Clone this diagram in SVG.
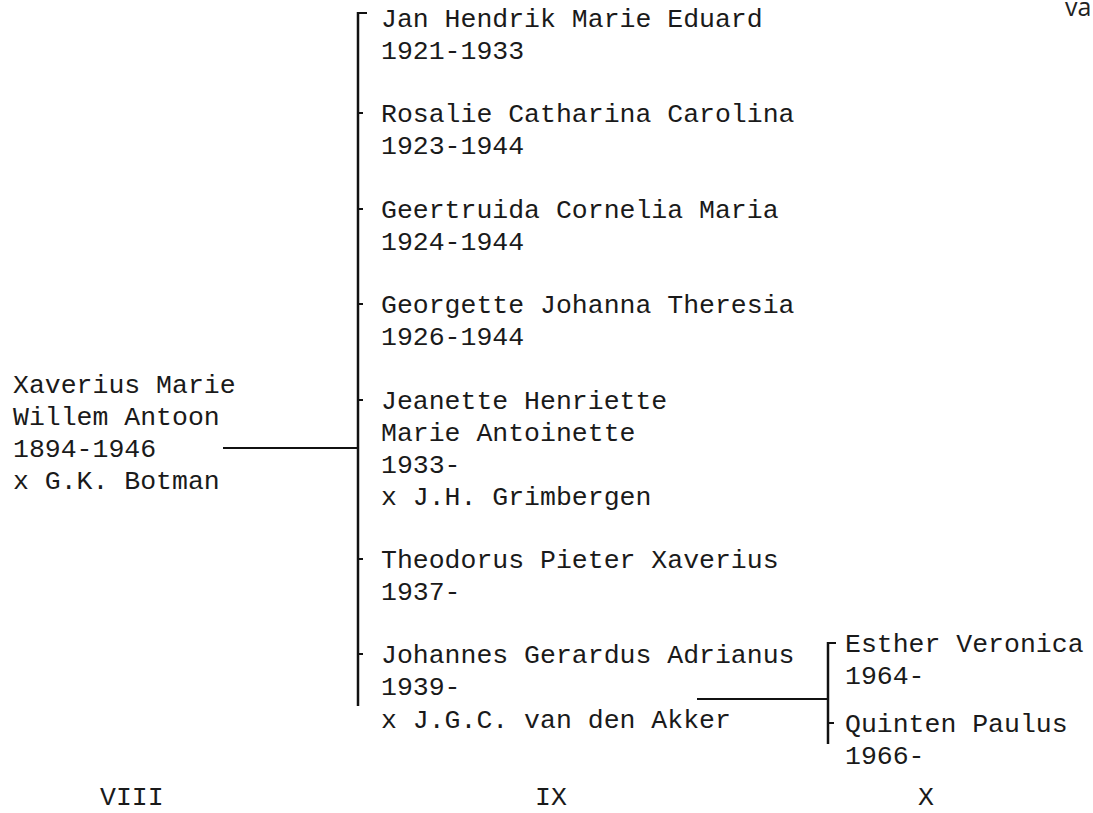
<svg xmlns="http://www.w3.org/2000/svg" width="1093" height="813" viewBox="0 0 1093 813">
<style>
text.t{font-family:"Liberation Mono","DejaVu Sans Mono",monospace;font-size:26.5px;fill:#1a1a1a}
.ln{stroke:#111;stroke-width:2.5;fill:none}
.tk{stroke:#111;stroke-width:2;fill:none}
</style>
<rect width="1093" height="813" fill="#fff"/>
<text x="1065" y="16" style="font-family:'Open Sans','DejaVu Sans',sans-serif;font-size:25px;fill:#222">va</text>
<g id="connectors">
<path class="ln" d="M358 12V706"/>
<path class="tk" d="M358 13H367"/>
<path class="tk" d="M358 113H363M358 209H363M358 304H363M358 400H363M358 559H363M358 654H363"/>
<path class="tk" d="M223 448H358"/>
<path class="tk" d="M697 699H828"/>
<path class="ln" d="M828 642V744"/>
<path class="tk" d="M828 643H836M828 723H834"/>
</g>
<g id="n_xaverius"><text class="t" x="13" y="393">Xaverius Marie</text><text class="t" x="13" y="425">Willem Antoon</text><text class="t" x="13" y="457">1894-1946</text><text class="t" x="13" y="489">x G.K. Botman</text></g>
<g id="n_jan"><text class="t" x="381" y="27">Jan Hendrik Marie Eduard</text><text class="t" x="381" y="59">1921-1933</text></g>
<g id="n_rosalie"><text class="t" x="381" y="122">Rosalie Catharina Carolina</text><text class="t" x="381" y="154">1923-1944</text></g>
<g id="n_geertruida"><text class="t" x="381" y="218">Geertruida Cornelia Maria</text><text class="t" x="381" y="250">1924-1944</text></g>
<g id="n_georgette"><text class="t" x="381" y="313">Georgette Johanna Theresia</text><text class="t" x="381" y="345">1926-1944</text></g>
<g id="n_jeanette"><text class="t" x="381" y="409">Jeanette Henriette</text><text class="t" x="381" y="441">Marie Antoinette</text><text class="t" x="381" y="473">1933-</text><text class="t" x="381" y="505">x J.H. Grimbergen</text></g>
<g id="n_theodorus"><text class="t" x="381" y="568">Theodorus Pieter Xaverius</text><text class="t" x="381" y="600">1937-</text></g>
<g id="n_johannes"><text class="t" x="381" y="663">Johannes Gerardus Adrianus</text><text class="t" x="381" y="695">1939-</text><text class="t" x="381" y="728">x J.G.C. van den Akker</text></g>
<g id="n_esther"><text class="t" x="845" y="652">Esther Veronica</text><text class="t" x="845" y="684">1964-</text></g>
<g id="n_quinten"><text class="t" x="845" y="732">Quinten Paulus</text><text class="t" x="845" y="764">1966-</text></g>
<g id="generations"><text class="t" x="100" y="805">VIII</text><text class="t" x="535" y="805">IX</text><text class="t" x="918" y="805">X</text></g>
</svg>
